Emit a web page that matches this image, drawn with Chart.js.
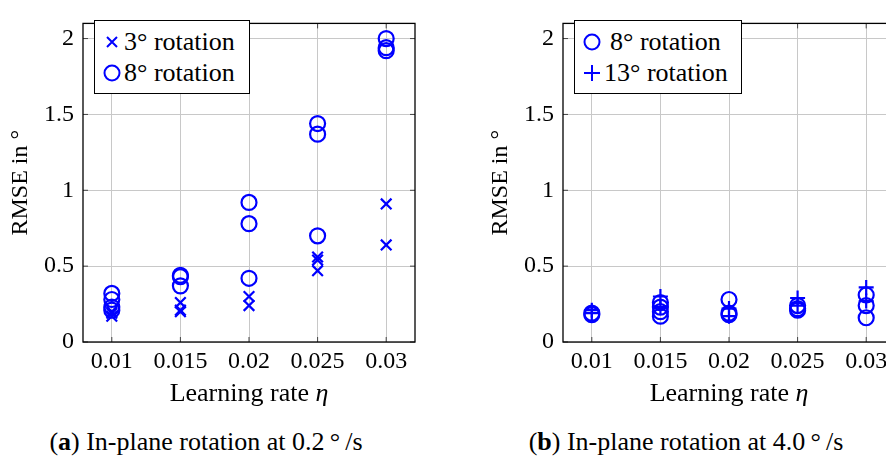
<!DOCTYPE html>
<html>
<head>
<meta charset="utf-8">
<script src="https://cdn.jsdelivr.net/npm/chart.js@4/dist/chart.umd.min.js"></script>
<style>
  body { margin: 0; width: 886px; height: 459px; overflow: hidden; background: #fff; position: relative;
         font-family: "Liberation Serif", serif; color: #000; }
  .box { position: absolute; top: 0; width: 430px; height: 410px; }
  .legend { position: absolute; top: 20px; height: 74px; box-sizing: border-box; border: 1.3px solid #000; background: #fff;
            font-size: 26px; line-height: 31px; padding: 5px 0 0 6px; }
  .legend div { display: flex; align-items: center; white-space: nowrap; }
  .legend svg { margin-right: 1px; flex: none; }
  .xt { position: absolute; top: 377px; font-size: 26px; line-height: 32px; white-space: nowrap; transform: translateX(-50%); }
  .cap { position: absolute; top: 426px; font-size: 26px; line-height: 32px; white-space: nowrap; transform: translateX(-50%); }
</style>
</head>
<body>
<div class="box" style="left:0"><canvas id="chart-a"></canvas></div>
<div class="box" style="left:480px"><canvas id="chart-b"></canvas></div>

<div class="legend" style="left:94px; width:156px;">
  <div><svg width="22" height="22"><path d="M6 6L16 16M16 6L6 16" stroke="#0000ff" stroke-width="2"/></svg>3° rotation</div>
  <div><svg width="22" height="22"><circle cx="11" cy="11" r="7.5" fill="none" stroke="#0000ff" stroke-width="2"/></svg>8° rotation</div>
</div>
<div class="legend" style="left:574px; width:168px;">
  <div><svg width="22" height="22"><circle cx="11" cy="11" r="7.5" fill="none" stroke="#0000ff" stroke-width="2"/></svg><span style="margin-left:6px">8° rotation</span></div>
  <div><svg width="22" height="22"><path d="M3 11H19M11 3V19" stroke="#0000ff" stroke-width="2"/></svg>13° rotation</div>
</div>

<div class="xt" style="left:249px">Learning rate <i>η</i></div>
<div class="xt" style="left:729px">Learning rate <i>η</i></div>

<div class="cap" style="left:206px">(<b>a</b>) In-plane rotation at 0.2&thinsp;°&thinsp;/s</div>
<div class="cap" style="left:686px">(<b>b</b>) In-plane rotation at 4.0&thinsp;°&thinsp;/s</div>

<script>
const etas = [0.01, 0.015, 0.02, 0.025, 0.03];
const yTicks = [0, 0.5, 1, 1.5, 2];

// (a) 0.2 deg/s -- values per learning rate
const slow3deg = [[0.17, 0.19, 0.2], [0.2, 0.21, 0.26], [0.24, 0.3], [0.47, 0.54, 0.56], [0.64, 0.91]];
const slow8deg = [[0.21, 0.23, 0.28, 0.32], [0.37, 0.43, 0.44], [0.42, 0.78, 0.92], [0.7, 1.37, 1.44], [1.92, 1.94, 2.0]];

// (b) 4.0 deg/s
const fast8deg = [[0.18, 0.19], [0.17, 0.2, 0.23, 0.26], [0.18, 0.19, 0.28], [0.21, 0.22, 0.24], [0.16, 0.24, 0.31]];
const fast13deg = [[0.19, 0.21], [0.23, 0.3], [0.17, 0.22], [0.24, 0.29], [0.27, 0.36]];

const blue = '#0000ff';
const tickFont = { family: '"Liberation Serif", serif', size: 24 };

function toPoints(groups) {
  const pts = [];
  groups.forEach((vals, i) => vals.forEach(v => pts.push({ x: etas[i], y: v })));
  return pts;
}

// frame + inward ticks, pgfplots style
const framePlugin = {
  id: 'frame',
  afterDraw(chart) {
    const { ctx, chartArea: a, scales } = chart;
    ctx.save();
    ctx.strokeStyle = '#444';
    ctx.lineWidth = 1;
    ctx.beginPath();
    etas.forEach(v => {
      const x = scales.x.getPixelForValue(v);
      ctx.moveTo(x, a.bottom); ctx.lineTo(x, a.bottom - 5);
      ctx.moveTo(x, a.top); ctx.lineTo(x, a.top + 5);
    });
    yTicks.forEach(v => {
      const y = scales.y.getPixelForValue(v);
      ctx.moveTo(a.left, y); ctx.lineTo(a.left + 5, y);
      ctx.moveTo(a.right, y); ctx.lineTo(a.right - 5, y);
    });
    ctx.stroke();
    ctx.strokeStyle = '#000';
    ctx.lineWidth = 1.3;
    ctx.strokeRect(a.left, a.top, a.right - a.left, a.bottom - a.top);
    ctx.restore();
  }
};

function makeChart(id, sets) {
  return new Chart(document.getElementById(id), {
    type: 'scatter',
    data: {
      datasets: sets.map(s => ({
        label: s.label,
        data: toPoints(s.values),
        pointStyle: s.style,
        pointRadius: s.style === 'circle' ? 7.5 : 7.5,
        pointBorderWidth: 2.2,
        borderColor: blue,
        backgroundColor: 'rgba(0,0,0,0)'
      }))
    },
    options: {
      responsive: true,
      maintainAspectRatio: false,
      animation: false,
      layout: { padding: { top: 10, right: 15, left: 0, bottom: 0 } },
      plugins: { legend: { display: false }, tooltip: { enabled: false } },
      scales: {
        x: {
          type: 'linear', min: 0.0079, max: 0.0321,
          afterBuildTicks: s => { s.ticks = etas.map(v => ({ value: v })); },
          afterFit: s => { s.height = 68; },
          ticks: { font: tickFont, color: '#000', padding: 5, callback: v => String(v) },
          grid: { color: '#c8c8c8', drawTicks: false },
          border: { display: false }
        },
        y: {
          min: 0, max: 2.1,
          afterBuildTicks: s => { s.ticks = yTicks.map(v => ({ value: v })); },
          afterFit: s => { s.width = 83; },
          ticks: { font: tickFont, color: '#000', padding: 9, callback: v => String(v) },
          grid: { color: '#c8c8c8', drawTicks: false },
          border: { display: false },
          title: { display: true, text: 'RMSE in °', font: tickFont, color: '#000', padding: { top: 6, bottom: 0 } }
        }
      }
    },
    plugins: [framePlugin]
  });
}

makeChart('chart-a', [
  { label: '3° rotation', values: slow3deg, style: 'crossRot' },
  { label: '8° rotation', values: slow8deg, style: 'circle' }
]);
makeChart('chart-b', [
  { label: '8° rotation', values: fast8deg, style: 'circle' },
  { label: '13° rotation', values: fast13deg, style: 'cross' }
]);
</script>
</body>
</html>
